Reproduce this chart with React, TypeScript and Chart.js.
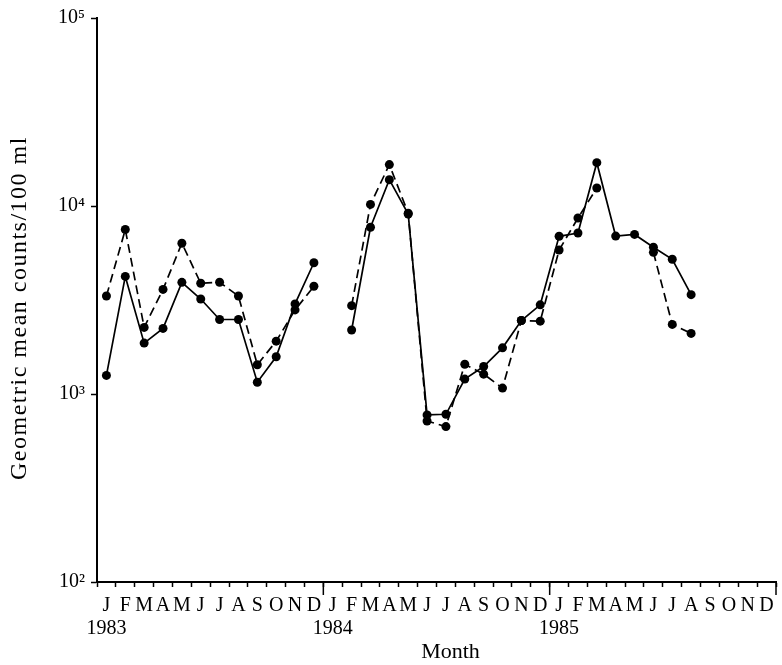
import React, { useEffect, useRef } from "react";
import { Chart, registerables } from "chart.js";

Chart.register(...registerables);

const months = ["J","F","M","A","M","J","J","A","S","O","N","D","J","F","M","A","M","J","J","A","S","O","N","D","J","F","M","A","M","J","J","A","S","O","N","D"];
const yearLabels = ["1983","","","","","","","","","","","","1984","","","","","","","","","","","","1985","","","","","","","","","","",""];
const yearBoundaries = [12, 24, 36];

const solidValues = [1256, 4220, 1865, 2233, 3927, 3200, 2490, 2490, 1155, 1578, 3015, 4990,
  null, 2190, 7710, 13800, 9060, 774, 780, 1200, 1400, 1760, 2460, 2980,
  6900, 7180, 17000, 6920, 7060, 6040, 5210, 3375, null, null, null, null];
const dashedValues = [3320, 7500, 2260, 3600, 6340, 3880, 3930, 3320, 1430, 1910, 2800, 3740,
  null, 2950, 10200, 16600, 9160, 718, 671, 1440, 1275, 1075, 2460, 2440,
  5830, 8630, 12470, null, null, 5670, 2345, 2100, null, null, null, null];

const yTickValues = [100, 1000, 10000, 100000];
const yTickLabels = ["10\u00B2", "10\u00B3", "10\u2074", "10\u2075"];

const FONT = "'Liberation Serif', 'Times New Roman', serif";

function patchTitle(scale: any, spacing: string, dx: number, dy: number) {
  if (!scale || scale.__patched) return;
  const orig = scale.drawTitle.bind(scale);
  scale.drawTitle = function () {
    const ctx = this.ctx;
    ctx.save();
    (ctx as any).letterSpacing = spacing;
    ctx.translate(dx, dy);
    orig();
    ctx.restore();
  };
  scale.__patched = true;
}

const axisExtras = {
  id: "axisExtras",
  beforeDraw(chart: any) {
    patchTitle(chart.scales.y, "1.5px", 0, 8);
    patchTitle(chart.scales.x2, "0px", 14, 2);
  },
  afterDraw(chart: any) {
    const sx = chart.scales.x;
    const ctx = chart.ctx;
    ctx.save();
    ctx.strokeStyle = "#000";
    ctx.lineWidth = 1.5;
    yearBoundaries.forEach((b) => {
      const px = sx.getPixelForValue(b - 0.5);
      ctx.beginPath();
      ctx.moveTo(px, sx.top - 1);
      ctx.lineTo(px, sx.top + 13);
      ctx.stroke();
    });
    ctx.restore();
  },
};

export default function App() {
  const ref = useRef<HTMLCanvasElement | null>(null);
  useEffect(() => {
    if (!ref.current) return;
    const chart = new Chart(ref.current, {
      type: "line",
      data: {
        labels: months,
        datasets: [
          {
            data: solidValues,
            borderColor: "#000",
            backgroundColor: "#000",
            borderWidth: 1.7,
            pointRadius: 4.5,
            pointBackgroundColor: "#000",
            pointBorderWidth: 0,
            spanGaps: false,
            tension: 0,
          },
          {
            data: dashedValues,
            borderColor: "#000",
            backgroundColor: "#000",
            borderWidth: 1.7,
            borderDash: [9, 5],
            pointRadius: 4.5,
            pointBackgroundColor: "#000",
            pointBorderWidth: 0,
            spanGaps: false,
            tension: 0,
          },
        ],
      },
      options: {
        animation: false,
        responsive: true,
        maintainAspectRatio: false,
        layout: { padding: { top: 14, right: 6, left: 0, bottom: 0 } },
        plugins: { legend: { display: false }, tooltip: { enabled: false } },
        scales: {
          x: {
            type: "category",
            offset: true,
            grid: { offset: true, drawOnChartArea: false, drawTicks: true, tickLength: 5, tickColor: "#000", tickWidth: 1.5 },
            border: { color: "#000", width: 2 },
            ticks: { autoSkip: false, maxRotation: 0, padding: 7, color: "#000", font: { family: FONT, size: 20 } },
            afterFit: (s: any) => { s.height = 31; },
          },
          x2: {
            type: "category",
            position: "bottom",
            labels: yearLabels,
            offset: true,
            grid: { display: false, drawTicks: false },
            border: { display: false },
            ticks: { autoSkip: false, maxRotation: 0, padding: 4, color: "#000", font: { family: FONT, size: 20 } },
            title: { display: true, text: "Month", color: "#000", font: { family: FONT, size: 22 }, padding: { top: 0, bottom: 2 } },
            afterFit: (s: any) => { s.height = 52; },
          },
          y: {
            type: "logarithmic",
            min: 100,
            max: 100000,
            grid: { drawOnChartArea: false, drawTicks: true, tickLength: 6, tickColor: "#000", tickWidth: 1.5 },
            border: { color: "#000", width: 2 },
            afterBuildTicks: (s: any) => { s.ticks = yTickValues.map((v) => ({ value: v })); },
            ticks: {
              padding: 6,
              color: "#000",
              font: { family: FONT, size: 20 },
              callback: (v: any) => { const i = yTickValues.indexOf(Number(v)); return i >= 0 ? yTickLabels[i] : ""; },
            },
            title: { display: true, text: "Geometric mean counts/100 ml", color: "#000", font: { family: FONT, size: 24 }, padding: { top: 5, bottom: 0 } },
            afterFit: (s: any) => { s.width = 97; },
          },
        },
      },
      plugins: [axisExtras],
    });
    return () => chart.destroy();
  }, []);
  return (
    <div style={{ position: "absolute", left: 0, top: 0, width: 782, height: 665, background: "#fff" }}>
      <canvas ref={ref} />
    </div>
  );
}
